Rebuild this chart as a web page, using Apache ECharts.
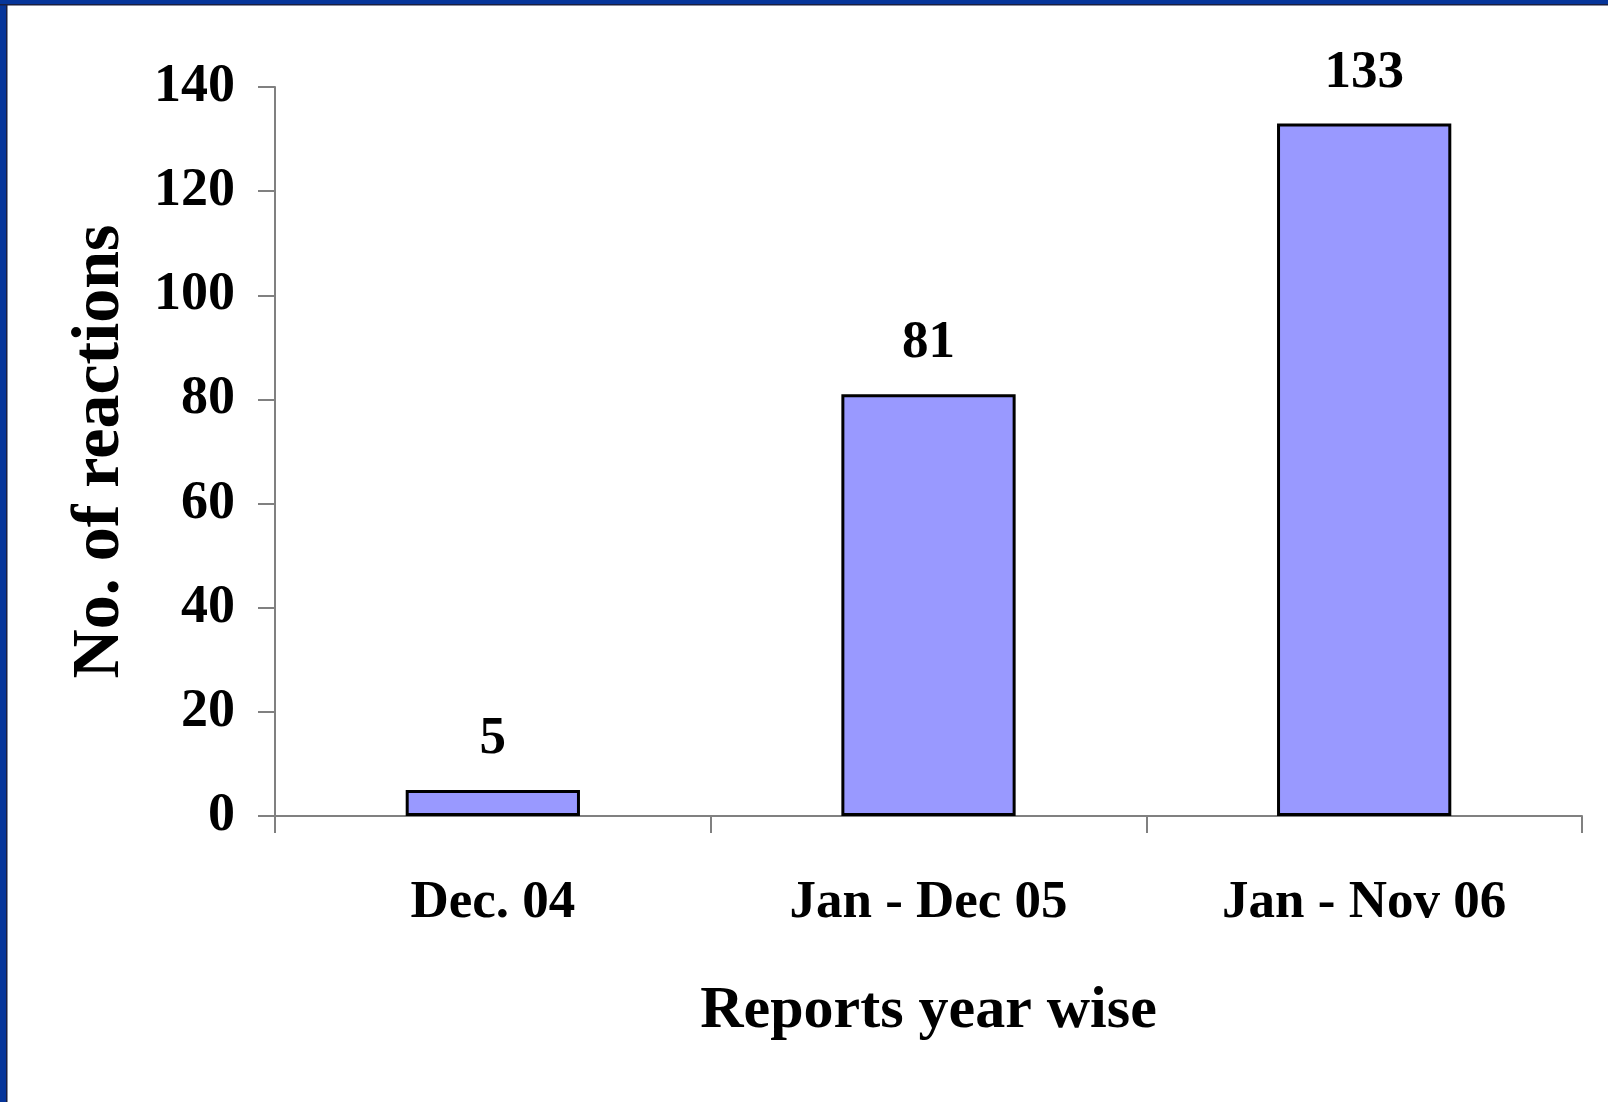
<!DOCTYPE html>
<html>
<head>
<meta charset="utf-8">
<style>
html,body{margin:0;padding:0;background:#fff;}
#chart{width:1608px;height:1102px;}
</style>
<script src="https://cdn.jsdelivr.net/npm/echarts@6/dist/echarts.min.js"></script>
</head>
<body>
<div id="chart"></div>
<script>
const categories = ['Dec. 04', 'Jan - Dec 05', 'Jan - Nov 06'];
const reactions = [5, 81, 133];
const yTicks = { min: 0, max: 140, interval: 20 };

const font = '"Liberation Serif", "Times New Roman", serif';
const chart = echarts.init(document.getElementById('chart'));
chart.setOption({
  backgroundColor: '#ffffff',
  animation: false,
  graphic: [
    { type: 'rect', left: 0, top: 0, shape: { width: 1608, height: 5 }, style: { fill: '#06359A' }, z: 100 },
    { type: 'rect', left: 0, top: 4, shape: { width: 1608, height: 1.5 }, style: { fill: '#1a1f40' }, z: 101 },
    { type: 'rect', left: 0, top: 0, shape: { width: 6, height: 1102 }, style: { fill: '#06359A' }, z: 100 },
    { type: 'rect', left: 6, top: 4, shape: { width: 1.5, height: 1098 }, style: { fill: '#1a1f40' }, z: 101 }
  ],
  grid: { left: 275, right: 26, top: 87, bottom: 286, containLabel: false },
  xAxis: {
    type: 'category',
    data: categories,
    boundaryGap: true,
    name: 'Reports year wise',
    nameLocation: 'middle',
    nameGap: 165,
    nameTextStyle: { fontFamily: font, fontWeight: 'bold', fontSize: 60, color: '#000' },
    axisLine: { lineStyle: { color: '#808080', width: 2 } },
    axisTick: { show: true, inside: false, length: 17, alignWithLabel: false, lineStyle: { color: '#808080', width: 2 } },
    axisLabel: { margin: 61, fontFamily: font, fontWeight: 'bold', fontSize: 53, color: '#000' },
    splitLine: { show: false }
  },
  yAxis: {
    type: 'value',
    min: yTicks.min,
    max: yTicks.max,
    interval: yTicks.interval,
    name: 'No. of reactions',
    nameLocation: 'middle',
    nameGap: 141,
    nameRotate: 90,
    nameTextStyle: { fontFamily: font, fontWeight: 'bold', fontSize: 68, color: '#000' },
    axisLine: { show: true, lineStyle: { color: '#808080', width: 2 } },
    axisTick: { show: true, inside: false, length: 17, lineStyle: { color: '#808080', width: 2 } },
    axisLabel: { margin: 40, fontFamily: font, fontWeight: 'bold', fontSize: 54, color: '#000' },
    splitLine: { show: false }
  },
  series: [{
    type: 'bar',
    data: reactions,
    barWidth: '40%',
    itemStyle: { color: '#9999FF', borderColor: '#000', borderWidth: 3 },
    label: {
      show: true,
      position: 'top',
      distance: 24,
      fontFamily: font,
      fontWeight: 'bold',
      fontSize: 53,
      color: '#000'
    }
  }]
});
</script>
</body>
</html>
